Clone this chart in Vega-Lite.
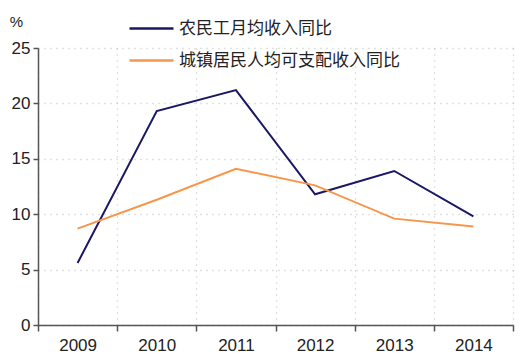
{
  "$schema": "https://vega.github.io/schema/vega-lite/v6.json",
  "width": 475,
  "height": 277,
  "padding": {"left": 38, "top": 48, "right": 12, "bottom": 35},
  "autosize": {"type": "none"},
  "background": "white",
  "config": {
    "view": {"stroke": null},
    "font": "Liberation Sans",
    "axis": {"labelFont": "Liberation Sans", "labelFontSize": 17, "labelColor": "#222", "domainColor": "#555", "tickColor": "#555", "gridColor": "#c4c4c4", "gridDash": [1, 5], "gridWidth": 1.3}
  },
  "data": {
    "values": [
      {"year": "2009", "series": "农民工月均收入同比", "value": 5.6},
      {"year": "2010", "series": "农民工月均收入同比", "value": 19.3},
      {"year": "2011", "series": "农民工月均收入同比", "value": 21.2},
      {"year": "2012", "series": "农民工月均收入同比", "value": 11.8},
      {"year": "2013", "series": "农民工月均收入同比", "value": 13.9},
      {"year": "2014", "series": "农民工月均收入同比", "value": 9.8},
      {"year": "2009", "series": "城镇居民人均可支配收入同比", "value": 8.7},
      {"year": "2010", "series": "城镇居民人均可支配收入同比", "value": 11.3},
      {"year": "2011", "series": "城镇居民人均可支配收入同比", "value": 14.1},
      {"year": "2012", "series": "城镇居民人均可支配收入同比", "value": 12.6},
      {"year": "2013", "series": "城镇居民人均可支配收入同比", "value": 9.6},
      {"year": "2014", "series": "城镇居民人均可支配收入同比", "value": 8.9}
    ]
  },
  "mark": {"type": "line", "strokeWidth": 2},
  "encoding": {
    "x": {
      "field": "year", "type": "ordinal", "bandPosition": 0.5,
      "scale": {"type": "band", "paddingInner": 0, "paddingOuter": 0},
      "axis": {"title": null, "labelAngle": 0, "tickBand": "extent", "grid": true, "tickSize": 6, "labelPadding": 6, "domainWidth": 1.5, "tickWidth": 1.5}
    },
    "y": {
      "field": "value", "type": "quantitative",
      "scale": {"domain": [0, 25]},
      "axis": {"values": [0, 5, 10, 15, 20, 25], "title": "%", "titleAngle": 0, "titleX": -22, "titleY": -19, "titleFont": "Liberation Sans", "titleFontSize": 15, "titleFontWeight": "normal", "titleColor": "#222", "tickSize": 5, "labelPadding": 3, "domainWidth": 1.5, "tickWidth": 1.5}
    },
    "color": {
      "field": "series", "type": "nominal",
      "scale": {"domain": ["农民工月均收入同比", "城镇居民人均可支配收入同比"], "range": ["#1a1763", "#f7964a"]},
      "legend": {
        "title": null, "orient": "none", "legendX": 90, "legendY": -43,
        "symbolType": "stroke", "symbolSize": 1936, "symbolStrokeWidth": 2.5,
        "labelFont": "Noto Sans CJK SC", "labelFontSize": 17, "labelColor": "#222", "labelLimit": 0,
        "rowPadding": -12, "labelOffset": 4
      }
    }
  }
}
